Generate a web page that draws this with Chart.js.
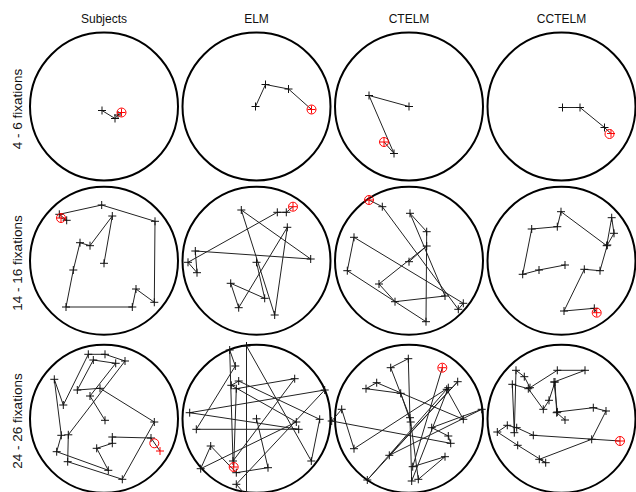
<!DOCTYPE html>
<html>
<head>
<meta charset="utf-8">
<script src="https://cdn.jsdelivr.net/npm/chart.js@4.4.1/dist/chart.umd.min.js"></script>
<style>
  html, body { margin: 0; padding: 0; width: 636px; height: 492px; overflow: hidden; background: #fff; }
  #fig { position: relative; width: 636px; height: 492px; }
  #fig canvas { position: absolute; }
  .head, .side { position: absolute; font-family: "Liberation Sans", Arial, sans-serif; color: #111; white-space: nowrap; }
  .head { font-size: 12px; line-height: 14px; transform: translateX(-50%); }
  .side { font-size: 13.5px; line-height: 16px; transform: translate(-50%, -50%) rotate(-90deg); }
</style>
</head>
<body>
<div id="fig"></div>
<script>
// Column and row titles
const models = ['Subjects', 'ELM', 'CTELM', 'CCTELM'];
const fixationRanges = ['4 - 6 fixations', '14 - 16 fixations', '24 - 26 fixations'];

// Scanpaths: [x, y] fixation positions in pixels from the display centre (y downwards).
// The first fixation sits near the centre, the last one is marked in red.
const subjectsShort = [[-2, 4], [11, 12], [14, 8.5], [17.5, 6]];
const elmShort = [[-1, 0], [9, -22], [32, -17.5], [55, 3]];
const ctelmShort = [[0, 0], [-40, -11], [-15, 47], [-25, 35.5]];
const cctelmShort = [[1, 1], [18.5, 1], [43, 21], [49.5, 27]];

const subjectsMid = [[0, 2.5], [8.3, -44.8], [-14, -15.1], [-24, -18.1], [-30.7, 9.2], [-38, 46.2],
  [28.3, 46.2], [32, 28.2], [50.3, 41.5], [51, -39.5], [-2.3, -55.8], [-44.7, -46.5], [-37.3, -40.5], [-43, -42.8]];
const elmMid = [[0, 1.5], [8.2, 37.5], [-25.8, 22.5], [-17.8, 46.9], [30.8, -33.5], [18.2, 54.2], [-15.2, -50.8],
  [54.2, -1.8], [-61.2, -9.8], [-59.5, 11.9], [-68.5, 1.5], [20.8, -48.5], [29.8, -48.5], [36.5, -54.1]];
const ctelmMid = [[0, 0.9], [17.7, -14.8], [-30, 23.2], [-14, 40.9], [36, 35.2], [1, -47.5], [17.7, -29.1],
  [17, 60.9], [-61.7, 9.9], [-55, -23.5], [54.3, 42.5], [49.3, 48.5], [-26.7, -54.1], [-40, -60.8]];
const cctelmMid = [[3.5, 4.2], [-22.5, 9.2], [-38.8, 13.5], [-29.8, -31.8], [-4.2, -34.1], [-0.5, -49.1],
  [45.2, -15.1], [50.2, -43.1], [52.5, -27.5], [45.8, -15.8], [38.5, 9.9], [22.8, 8.5], [2.5, 50.2],
  [32.8, 47.5], [35.2, 51.9]];

const subjectsLong = [[1, 1.5], [-14, -22.8], [11.7, -55.5], [-10.7, -58.8], [-26.7, -28.8], [-4, -30.5],
  [50.3, 3.2], [18.3, 60.5], [-36.3, 42.9], [-35.7, 16], [21, -57.8], [1, -64.5], [-15.7, -64.5],
  [-40.7, -13.8], [-49.7, -39.5], [-42.7, 16.5], [-47.3, 32.9], [4.3, 51.5], [-7.3, 29.5], [8.3, 24.5],
  [8.3, 18.2], [47, 19.2], [56, 32.2]];
const elmLong = [[0, 0], [11.5, 48.9], [-20.2, 53.9], [-45.8, 27.2], [-55.8, 49.9], [39.8, 3.2],
  [-25.2, -33.5], [-17.8, -37.8], [63.2, 0.5], [54.8, 42.2], [-10, -72.8], [-10, 77.2], [-20.2, 65.5],
  [68.2, -28.8], [-66.8, -6.1], [42.2, 10.5], [-60.2, 10.5], [-21.2, -52.8], [-26.8, -68.8], [-23.5, 42.2],
  [38.2, -40.1], [-20.2, -30.1], [-22.8, 48.2]];
const ctelmLong = [[1, -1.1], [-18.3, -51.1], [-0.7, -60.1], [2.7, 62.2], [39.3, -31.1], [-55, 29.9],
  [-67.3, -9.5], [-77.3, 2.2], [41.7, 24.5], [39.3, 17.2], [22.7, 8.9], [72.7, -9.5], [-19.7, 36.5],
  [48.7, -37.1], [-41.7, 61.2], [37.7, -29.5], [54.3, 0.5], [-32.3, -36.1], [-43, -30.1], [-8.3, -25.5],
  [1.7, 3.2], [9.3, 60.5], [36, 37.9], [3.7, 47.9], [33.3, -51.1]];
const cctelmLong = [[3.5, 1.2], [-4.8, -6.1], [-6.5, -36.8], [-12.5, -18.5], [-18.2, -9.5], [-33.2, -30.1],
  [-49.2, -34.5], [-47.2, 13.9], [-45.5, -48.5], [-37.2, -42.1], [-31.5, -31.1], [-4.2, -48.5], [23.5, -48.5],
  [-7.5, -36.8], [-4.2, -6.8], [31.8, -11.1], [44.5, -7.8], [30.2, 20.5], [-22.2, 40.5], [-15.8, 43.9],
  [-43.8, 26.5], [-64.2, 13.2], [-54.2, 6.5], [-44.8, 8.9], [-28.2, 16.5], [58.5, 22.2]];

// Red ring marking the end of each scanpath, row by row
const endRings = [[17.5, 6], [55, 3], [-25, 35.5], [48, 27.5],
  [-43, -42.8], [36.5, -54.1], [-40, -60.8], [35.2, 51.9],
  [50.3, 24.5], [-22.8, 48.2], [33.3, -51.1], [58.5, 22.2]];

const scanpaths = [
  [subjectsShort, elmShort, ctelmShort, cctelmShort],
  [subjectsMid, elmMid, ctelmMid, cctelmMid],
  [subjectsLong, elmLong, ctelmLong, cctelmLong]
];

// Layout of the panel grid
const colCentres = [104, 256.5, 409, 561.5];
const rowCentres = [106.5, 260.8, 418.8];
const DISPLAY_RADIUS = 74;   // radius of the viewing area, in data units
const SIZE = 172;            // panel canvas size, one data unit per pixel

// Draws the circular viewing area through the chart's own scales
const displayCircle = {
  id: 'displayCircle',
  beforeDatasetsDraw(chart) {
    const xs = chart.scales.x, ys = chart.scales.y;
    const cx = xs.getPixelForValue(0), cy = ys.getPixelForValue(0);
    const r = xs.getPixelForValue(DISPLAY_RADIUS) - cx;
    const ctx = chart.ctx;
    ctx.save();
    ctx.beginPath();
    ctx.arc(cx, cy, r, 0, Math.PI * 2);
    ctx.lineWidth = 2;
    ctx.strokeStyle = '#000';
    ctx.stroke();
    ctx.restore();
  }
};

const fig = document.getElementById('fig');

models.forEach((name, c) => {
  const h = document.createElement('div');
  h.className = 'head';
  h.textContent = name;
  h.style.left = colCentres[c] + 'px';
  h.style.top = '12px';
  fig.appendChild(h);
});
fixationRanges.forEach((label, r) => {
  const s = document.createElement('div');
  s.className = 'side';
  s.textContent = label;
  s.style.left = '17.5px';
  s.style.top = (rowCentres[r] + 2) + 'px';
  fig.appendChild(s);
});

scanpaths.forEach((row, r) => {
  row.forEach((path, c) => {
    // place the canvas on whole pixels and shift the axis range instead
    const left = Math.round(colCentres[c] - SIZE / 2);
    const top = Math.round(rowCentres[r] - SIZE / 2);
    const xMin = left - colCentres[c];
    const yMin = top - rowCentres[r];

    const canvas = document.createElement('canvas');
    canvas.width = SIZE;
    canvas.height = SIZE;
    canvas.style.left = left + 'px';
    canvas.style.top = top + 'px';
    fig.appendChild(canvas);

    const pts = path.map(([x, y]) => ({ x, y }));
    const ring = endRings[r * 4 + c];
    const markColours = pts.map((p, i) => (i === pts.length - 1 ? '#f00' : '#111'));

    new Chart(canvas, {
      type: 'scatter',
      data: {
        datasets: [
          {
            data: [{ x: ring[0], y: ring[1] }],
            pointStyle: 'circle',
            pointRadius: 4.5,
            pointBorderWidth: 1,
            pointBorderColor: '#f00',
            pointBackgroundColor: 'rgba(0,0,0,0)',
            showLine: false
          },
          {
            data: pts,
            showLine: true,
            borderColor: '#222',
            borderWidth: 1,
            tension: 0,
            fill: false,
            pointStyle: 'cross',
            pointRadius: 4,
            pointBorderWidth: 1,
            pointBorderColor: markColours,
            pointBackgroundColor: markColours
          }
        ]
      },
      options: {
        responsive: false,
        animation: false,
        devicePixelRatio: 1,
        layout: { padding: 0, autoPadding: false },
        events: [],
        plugins: { legend: { display: false }, tooltip: { enabled: false } },
        scales: {
          x: { type: 'linear', min: xMin, max: xMin + SIZE, display: false },
          y: { type: 'linear', min: yMin, max: yMin + SIZE, reverse: true, display: false }
        }
      },
      plugins: [displayCircle]
    });
  });
});
</script>
</body>
</html>
